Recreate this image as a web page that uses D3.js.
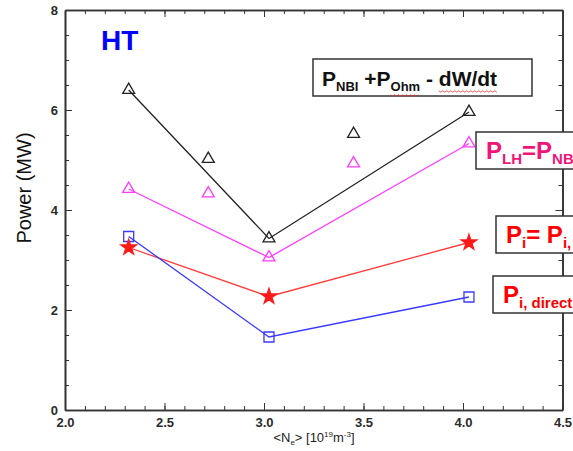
<!DOCTYPE html>
<meta charset="utf-8">
<style>
body { margin: 0; background: #fff; }
.tick text { font-family: "Liberation Sans", Arial, sans-serif; font-weight: bold; font-size: 13px; fill: #2b2b2b; }
.axis path, .axis line { stroke: #333; }
</style>
<body>
<script src="https://d3js.org/d3.v7.min.js"></script>
<script>

// density points (triangles)
var neTri = [2.32, 2.72, 3.025, 3.45, 4.03];
var pTotal = [6.4, 5.02, 3.43, 5.52, 5.96];   // P_NBI + P_Ohm - dW/dt
var pLH = [4.42, 4.33, 3.05, 4.93, 5.33];     // P_LH = P_NBI ...
var triLineIdx = [0, 2, 4];

// points with star / square markers
var neFit = [2.32, 3.025, 4.03];
var pIon = [3.25, 2.27, 3.35];                // P_i = P_i, ...
var pIonDirect = [3.47, 1.46, 2.26];          // P_i, direct

var xTicks = [2.0, 2.5, 3.0, 3.5, 4.0, 4.5];
var yTicks = [0, 2, 4, 6, 8];

var margin = {top: 10, right: 10.5, bottom: 41, left: 65},
    width = 573 - margin.left - margin.right,
    height = 451 - margin.top - margin.bottom;

var x = d3.scaleLinear().domain([2.0, 4.5]).range([0, width]);
var y = d3.scaleLinear().domain([0, 8]).range([height, 0]);

var svgRoot = d3.select("body").append("svg")
    .attr("width", 573)
    .attr("height", 451);
var svg = svgRoot.append("g")
    .attr("transform", "translate(" + margin.left + "," + margin.top + ")");

// minor ticks (every 0.1 on x, every 0.5 on y)
var xMinor = d3.range(2.1, 4.45, 0.1), yMinor = d3.range(0.5, 8, 0.5);
svg.append("g").attr("class", "axis").attr("transform", "translate(0," + height + ")")
    .call(d3.axisBottom(x).tickValues(xMinor).tickSize(-4).tickSizeOuter(0).tickFormat(""));
svg.append("g").attr("class", "axis")
    .call(d3.axisTop(x).tickValues(xMinor).tickSize(-4).tickSizeOuter(0).tickFormat(""));
svg.append("g").attr("class", "axis")
    .call(d3.axisLeft(y).tickValues(yMinor).tickSize(-4).tickSizeOuter(0).tickFormat(""));
svg.append("g").attr("class", "axis").attr("transform", "translate(" + width + ",0)")
    .call(d3.axisRight(y).tickValues(yMinor).tickSize(-4).tickSizeOuter(0).tickFormat(""));

// major ticks + labels
svg.append("g").attr("class", "axis").attr("transform", "translate(0," + height + ")")
    .call(d3.axisBottom(x).tickValues(xTicks).tickSize(-7).tickSizeOuter(0).tickPadding(8)
      .tickFormat(d3.format(".1f")));
svg.append("g").attr("class", "axis")
    .call(d3.axisTop(x).tickValues(xTicks).tickSize(-7).tickSizeOuter(0).tickFormat(""));
svg.append("g").attr("class", "axis")
    .call(d3.axisLeft(y).tickValues(yTicks).tickSize(-7).tickSizeOuter(0).tickPadding(7)
      .tickFormat(d3.format("d")));
svg.append("g").attr("class", "axis").attr("transform", "translate(" + width + ",0)")
    .call(d3.axisRight(y).tickValues(yTicks).tickSize(-7).tickSizeOuter(0).tickFormat(""));
svg.selectAll(".axis path.domain").attr("stroke-width", 1.6);

// lines
var line = d3.line().x(function(d) { return x(d[0]); }).y(function(d) { return y(d[1]); });
function addLine(xs, ys, color) {
  svg.append("path")
      .datum(xs.map(function(v, i) { return [v, ys[i]]; }))
      .attr("fill", "none").attr("stroke", color).attr("stroke-width", 1.3)
      .attr("d", line);
}
addLine(triLineIdx.map(function(i) { return neTri[i]; }), triLineIdx.map(function(i) { return pTotal[i]; }), "#222");
addLine(triLineIdx.map(function(i) { return neTri[i]; }), triLineIdx.map(function(i) { return pLH[i]; }), "#ff3cff");
addLine(neFit, pIon, "#ff3b3b");
addLine(neFit, pIonDirect, "#3a3aff");

// markers
function addMarkers(xs, ys, type, size, stroke, fill) {
  svg.selectAll(null)
      .data(xs.map(function(v, i) { return [v, ys[i]]; }))
    .enter().append("path")
      .attr("transform", function(d) { return "translate(" + x(d[0]) + "," + y(d[1]) + ")"; })
      .attr("d", d3.symbol().type(type).size(size))
      .attr("fill", fill).attr("stroke", stroke).attr("stroke-width", 1.3);
}
addMarkers(neTri, pTotal, d3.symbolTriangle, 62, "#222", "none");
addMarkers(neTri, pLH, d3.symbolTriangle, 62, "#ff3cff", "none");
addMarkers(neFit, pIonDirect, d3.symbolSquare, 100, "#3a3aff", "none");
addMarkers(neFit, pIon, d3.symbolStar, 75, "#ff1a1a", "#ff1a1a");

// HT label
svgRoot.append("text")
    .attr("x", 101).attr("y", 50)
    .style("font-family", "Liberation Sans, Arial, sans-serif")
    .style("font-weight", "bold").style("font-size", "28px")
    .attr("fill", "#0000ff")
    .text("HT");

// boxed labels
var font = "Liberation Sans, Arial, sans-serif";
function box(bx, by, bw, bh) {
  svgRoot.append("rect")
      .attr("x", bx).attr("y", by).attr("width", bw).attr("height", bh)
      .attr("fill", "#fff").attr("stroke", "#333").attr("stroke-width", 1.5);
}
function label(tx, ty, color, big, small, parts) {
  var t = svgRoot.append("text").attr("x", tx).attr("y", ty)
      .style("font-family", font).style("font-weight", "bold").attr("fill", color);
  var shift = 0;
  parts.forEach(function(p) {
    var dy = (p[1] ? 5 : 0) - shift;
    shift += dy;
    p.node = t.append("tspan").attr("dy", dy).style("font-size", (p[1] ? small : big) + "px").text(p[0]).node();
  });
  return parts;
}

box(313, 59, 219, 37);
var top1 = label(322, 86, "#111", 21, 13, [["P", 0], ["NBI", 1], [" +P", 0], ["Ohm", 1], [" - ", 0], ["dW/dt", 0]]);
// red squiggles under the words flagged by the spell checker
[top1[3], top1[5]].forEach(function(p) {
  var b = p.node.getBBox(), pts = [];
  for (var i = 0; i <= b.width; i += 2) pts.push([b.x + i, b.y + b.height + 1 + (i % 4 ? 1.2 : -0.2)]);
  svgRoot.append("path").attr("d", d3.line()(pts)).attr("fill", "none")
      .attr("stroke", "#e03030").attr("stroke-width", 0.8);
});

box(476, 132, 120, 37);
label(486, 159, "#ef1679", 24, 15, [["P", 0], ["LH", 1], ["=P", 0], ["NBI", 1]]);

box(496, 216, 100, 37);
label(506, 243, "#ff0000", 24, 15, [["P", 0], ["i", 1], ["= P", 0], ["i,", 1]]);

box(493, 276, 100, 37);
label(503, 303, "#ff0000", 24, 15, [["P", 0], ["i, direct", 1]]);

// y axis label
svgRoot.append("text")
    .attr("transform", "translate(31,188) rotate(-90)")
    .attr("text-anchor", "middle")
    .style("font-family", font).style("font-size", "20px")
    .attr("fill", "#111")
    .text("Power (MW)");

// x axis label
var xl = svgRoot.append("text")
    .attr("x", 314).attr("y", 442)
    .attr("text-anchor", "middle")
    .style("font-family", font).style("font-size", "13px")
    .attr("fill", "#222");
xl.append("tspan").text("<N");
xl.append("tspan").attr("dy", 3).style("font-size", "8px").text("e");
xl.append("tspan").attr("dy", -3).text("> [10");
xl.append("tspan").attr("dy", -5).style("font-size", "8px").text("19");
xl.append("tspan").attr("dy", 5).text("m");
xl.append("tspan").attr("dy", -5).style("font-size", "8px").text("-3");
xl.append("tspan").attr("dy", 5).text("]");

</script>
</body>
